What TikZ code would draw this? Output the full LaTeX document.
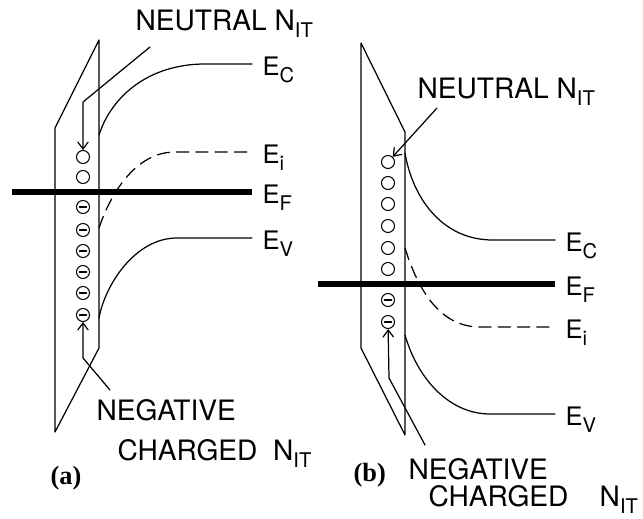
\documentclass[tikz,border=0pt]{standalone}
\usepackage{fontspec}
\setmainfont{TeX Gyre Heros}
\newfontfamily\capfont{Liberation Serif}
\usetikzlibrary{arrows.meta}
\newcommand{\lowsub}[1]{\raisebox{-0.5ex}{\fontsize{11.5}{12}\selectfont #1}}
\tikzset{
  level/.style={line width=0.7pt},
  fermi/.style={line width=3pt, line cap=butt},
  trap/.style={circle, draw, line width=0.6pt, minimum size=0.26cm, inner sep=0pt},
  trapneg/.style={trap, path picture={\draw[line width=0.8pt] (path picture bounding box.center) +(-0.07cm,0) -- +(0.07cm,0);}},
  lbl/.style={font=\fontsize{16}{18}\selectfont, inner sep=0pt, anchor=base west},
  elbl/.style={font=\fontsize{14.5}{16}\selectfont, inner sep=0pt, anchor=west},
  panel/.style={font=\capfont\bfseries\fontsize{15}{18}\selectfont, inner sep=0pt, anchor=base west}
}
\begin{document}
\begin{tikzpicture}[x=0.02cm, y=-0.02cm, >={Straight Barb[length=4pt,width=6pt]}, line join=round, line cap=round, line width=0.7pt]
  \useasboundingbox (0,0) rectangle (643,518);
  % panel (a)
  \draw (55,128) -- (99,40) -- (99,348) -- (55,432) -- cycle;
  \foreach \y [count=\i] in {157,177}
    \node[trap] (ta\i) at (83,\y) {};
  \foreach \y [count=\i from 3] in {207,230,251,272,293,315}
    \node[trapneg] (ta\i) at (83,\y) {};
  \coordinate (ca) at (252,64);
  \coordinate (ia) at (252,152);
  \coordinate (fa) at (252,192);
  \coordinate (va) at (252,238);
  \draw[level] (99,135) .. controls (112,95) and (150,64) .. (205,64) -- (ca);
  \draw[level, dash pattern=on 7pt off 4pt] (99,228) .. controls (110,195) and (135,152) .. (175,152) -- (ia);
  \draw[fermi] (12,192) -- (fa);
  \draw[level] (99,318) .. controls (105,285) and (135,238) .. (177,238) -- (va);
  \node[elbl] (eca) at (262,70) {E\lowsub{C}};
  \node[elbl] (eia) at (262,158) {E\lowsub{i}};
  \node[elbl] (efa) at (262,198) {E\lowsub{F}};
  \node[elbl] (eva) at (262,244) {E\lowsub{V}};
  \node[lbl] (neua) at (135,30) {NEUTRAL N\lowsub{IT}};
  \coordinate (na0) at (150,47);
  \draw[->] (na0) -- (83,102) -- (ta1);
  \node[lbl] (nega) at (96,420) {NEGATIVE};
  \node[lbl] (chga) at (117,460) {CHARGED\ \ N\lowsub{IT}};
  \coordinate (ga0) at (110,390);
  \draw[->] (ga0) -- (83,358) -- (ta8);
  \node[panel] (pa) at (50,484) {(a)};
  % panel (b)
  \draw (361,43) -- (405,132) -- (405,435) -- (361,348) -- cycle;
  \foreach \y [count=\i] in {162,183,204,226,248,269}
    \node[trap] (tb\i) at (388,\y) {};
  \foreach \y [count=\i from 7] in {300,322}
    \node[trapneg] (tb\i) at (388,\y) {};
  \coordinate (cb) at (555,240);
  \coordinate (fb) at (555,284);
  \coordinate (ib) at (555,327);
  \coordinate (vb) at (555,414);
  \draw[level] (405,153) .. controls (412,195) and (440,240) .. (493,240) -- (cb);
  \draw[fermi] (318,284) -- (fb);
  \draw[level, dash pattern=on 7pt off 4pt] (405,248) .. controls (418,290) and (440,327) .. (480,327) -- (ib);
  \draw[level] (405,335) .. controls (418,380) and (450,414) .. (490,414) -- (vb);
  \node[elbl] (ecb) at (565,246) {E\lowsub{C}};
  \node[elbl] (efb) at (565,290) {E\lowsub{F}};
  \node[elbl] (eib) at (565,333) {E\lowsub{i}};
  \node[elbl] (evb) at (565,420) {E\lowsub{V}};
  \node[lbl] (neub) at (417,98) {NEUTRAL N\lowsub{IT}};
  \coordinate (nb0) at (437,108);
  \draw[->] (nb0) -- (tb1);
  \node[lbl] (negb) at (408,479) {NEGATIVE};
  \node[lbl] (chgb) at (428,506) {CHARGED\ \ \ \ N\lowsub{IT}};
  \coordinate (gb0) at (425,445);
  \draw[->] (gb0) -- (389,378) -- (tb8);
  \node[panel] (pb) at (353,481) {(b)};
\end{tikzpicture}
\end{document}
